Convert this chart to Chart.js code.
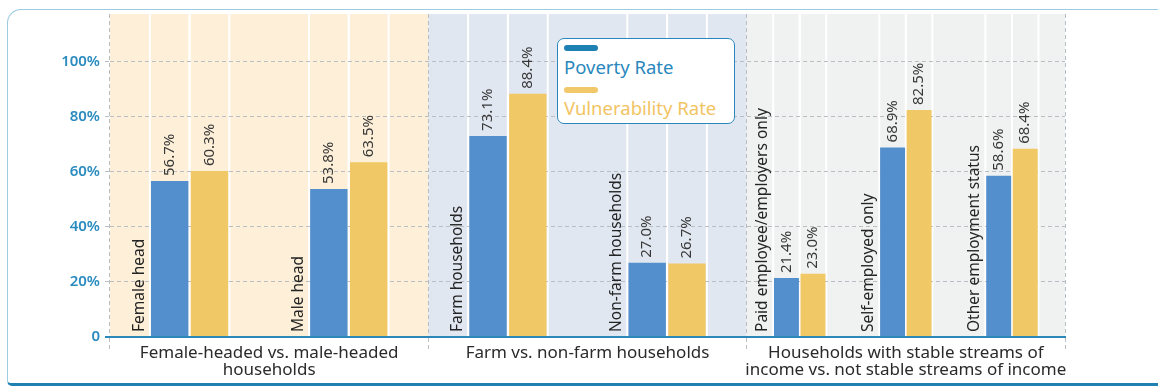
<!DOCTYPE html>
<html>
<head>
<meta charset="utf-8">
<script src="https://cdn.jsdelivr.net/npm/chart.js@4.4.1/dist/chart.umd.min.js"></script>
<style>
  html, body { margin: 0; padding: 0; background: #fff; }
  #wrap { position: relative; width: 1158px; height: 386px; overflow: hidden; font-family: 'Noto Sans', sans-serif; }
  #card {
    position: absolute; left: 7px; top: 9px; width: 1175px; height: 377px; box-sizing: border-box;
    border: 1.5px solid #9CCBE2; border-bottom: 3px solid #1F80B2; border-radius: 14px 14px 5px 5px;
  }
  #chart { position: absolute; left: 0; top: 0; }
  #legend {
    position: absolute; left: 557px; top: 38px; width: 178px; height: 86px; box-sizing: border-box;
    border: 1.5px solid #2A87BD; border-radius: 7px; background: #fff;
  }
  #legend .pill { position: absolute; left: 6px; width: 34px; height: 6px; border-radius: 3px; }
  #legend .txt { position: absolute; left: 6px; font-size: 18.5px; line-height: 22px; white-space: nowrap; }
</style>
</head>
<body>
<div id="wrap">
  <div id="card"></div>
  <canvas id="chart" width="1158" height="386"></canvas>
  <div id="legend"></div>
</div>
<script>
// sections along the x axis, and the groups inside each one
const sections = [
    ['Female-headed vs. male-headed', 'households'],
    ['Farm vs. non-farm households'],
    ['Households with stable streams of', 'income vs. not stable streams of income']
];
const groups = [
    ['Female head', 'Male head'],
    ['Farm households', 'Non-farm households'],
    ['Paid employee/employers only', 'Self-employed only', 'Other employment status']
];
const povertyRate = [[56.7, 53.8], [73.1, 27.0], [21.4, 68.9, 58.6]];
const vulnerabilityRate = [[60.3, 63.5], [88.4, 26.7], [23.0, 82.5, 68.4]];
const seriesNames = ['Poverty Rate', 'Vulnerability Rate'];
const yTicks = [0, 20, 40, 60, 80, 100];

const barColors = ['#548FCD', '#F1C866'];
const legendPill = ['#1F80B3', '#F2C96A'];
const legendText = ['#2A87BD', '#F2C464'];
const sectionColors = ['#FDEFD8', '#E1E7F0', '#F0F2F1'];
const gridGrey = '#B9BDC4';
const axisTeal = '#2C88B8';
const barPct = 0.94;
const font = "'Noto Sans', sans-serif";

// legend
const legend = document.getElementById('legend');
seriesNames.forEach((name, i) => {
    const pill = document.createElement('div');
    pill.className = 'pill';
    pill.style.top = (6 + i * 42) + 'px';
    pill.style.background = legendPill[i];
    const txt = document.createElement('div');
    txt.className = 'txt';
    txt.style.top = (17 + i * 41) + 'px';
    txt.style.color = legendText[i];
    txt.textContent = name;
    legend.appendChild(pill);
    legend.appendChild(txt);
});

// each group takes 4 slots: name, poverty, vulnerability, gap
// empty slots are null so skipNull leaves them out of the spacing
const maxGroups = Math.max(...groups.map(g => g.length));
const datasets = [];
const common = { skipNull: true, categoryPercentage: 1, barPercentage: barPct, borderWidth: 0 };
for (let k = 0; k < maxGroups; k++) {
    const spacer = groups.map(g => k < g.length ? 0 : null);
    datasets.push({ ...common, label: '', data: spacer, backgroundColor: 'transparent' });
    [povertyRate, vulnerabilityRate].forEach((rates, s) => {
        datasets.push({
            ...common,
            label: seriesNames[s],
            data: rates.map(r => r[k] ?? null),
            backgroundColor: barColors[s],
            series: s,
            slot: k
        });
    });
    datasets.push({ ...common, label: '', data: spacer.slice(), backgroundColor: 'transparent' });
}

const decor = {
    id: 'decor',
    beforeDraw(chart) {
        const { ctx, chartArea, scales: { x, y } } = chart;
        const w = (x.right - x.left) / sections.length;
        const base = y.getPixelForValue(0);
        ctx.save();
        sectionColors.forEach((c, i) => {
            ctx.fillStyle = c;
            ctx.fillRect(x.left + i * w, chartArea.top, w, base - chartArea.top);
        });
        ctx.fillStyle = '#fff';
        chart.data.datasets.forEach((ds, di) => {
            if (ds.series === undefined) return;
            chart.getDatasetMeta(di).data.forEach((bar, i) => {
                if (ds.data[i] == null) return;
                const half = bar.width / barPct / 2;
                [bar.x - half, bar.x + half].forEach(px => {
                    ctx.fillRect(px - 1, chartArea.top, 2, base - chartArea.top);
                });
            });
        });
        ctx.restore();
    },
    afterDatasetsDraw(chart) {
        const { ctx, scales: { y } } = chart;
        const base = y.getPixelForValue(0);
        ctx.save();
        chart.data.datasets.forEach((ds, di) => {
            if (ds.series === undefined) return;
            chart.getDatasetMeta(di).data.forEach((bar, i) => {
                const v = ds.data[i];
                if (v == null) return;
                // value above the bar
                ctx.save();
                ctx.translate(bar.x, bar.y - 5);
                ctx.rotate(-Math.PI / 2);
                ctx.font = '15px ' + font;
                ctx.fillStyle = '#383838';
                ctx.textAlign = 'left';
                ctx.textBaseline = 'middle';
                ctx.fillText(v.toFixed(1) + '%', 0, 0);
                ctx.restore();
                // group name left of the poverty bar
                if (ds.series === 0) {
                    ctx.save();
                    ctx.translate(bar.x - bar.width / 2 - 7, base - 5);
                    ctx.rotate(-Math.PI / 2);
                    ctx.font = '15.5px ' + font;
                    ctx.fillStyle = '#242424';
                    ctx.textAlign = 'left';
                    ctx.textBaseline = 'alphabetic';
                    ctx.fillText(groups[i][ds.slot], 0, 0);
                    ctx.restore();
                }
            });
        });
        ctx.restore();
    }
};

new Chart(document.getElementById('chart'), {
    type: 'bar',
    data: { labels: sections, datasets },
    plugins: [decor],
    options: {
        responsive: false,
        devicePixelRatio: 1,
        animation: false,
        layout: { padding: { top: 11, right: 93, bottom: 0, left: 0 } },
        plugins: { legend: { display: false }, tooltip: { enabled: false } },
        scales: {
            x: {
                afterFit: s => { s.height = 49; },
                grid: {
                    offset: true,
                    color: gridGrey,
                    tickLength: 13,
                    tickColor: gridGrey,
                    tickBorderDash: [4, 3]
                },
                border: { display: true, color: axisTeal, width: 2, dash: [4, 3] },
                ticks: {
                    color: '#2A2A2A',
                    padding: -5,
                    autoSkip: false,
                    font: { family: font, size: 17, lineHeight: 1.0 },
                    maxRotation: 0
                }
            },
            y: {
                min: 0,
                max: 117.4,
                afterFit: s => { s.width = 110; },
                afterBuildTicks: s => { s.ticks = yTicks.map(v => ({ value: v })); },
                grid: {
                    color: c => (c.tick && c.tick.value === 0) ? axisTeal : gridGrey,
                    lineWidth: c => (c.tick && c.tick.value === 0) ? 2 : 1,
                    tickColor: c => (c.tick && c.tick.value === 0) ? axisTeal : gridGrey,
                    tickLength: 5,
                    tickBorderDash: c => (c.tick && c.tick.value === 0) ? [] : [4, 3]
                },
                border: { display: false, dash: c => (c.tick && c.tick.value === 0) ? [] : [4, 3] },
                ticks: {
                    color: '#2A8BBF',
                    padding: 5,
                    font: { family: font, size: 15, weight: '600' },
                    callback: v => v === 0 ? '0' : v + '%'
                }
            }
        }
    }
});
</script>
</body>
</html>
